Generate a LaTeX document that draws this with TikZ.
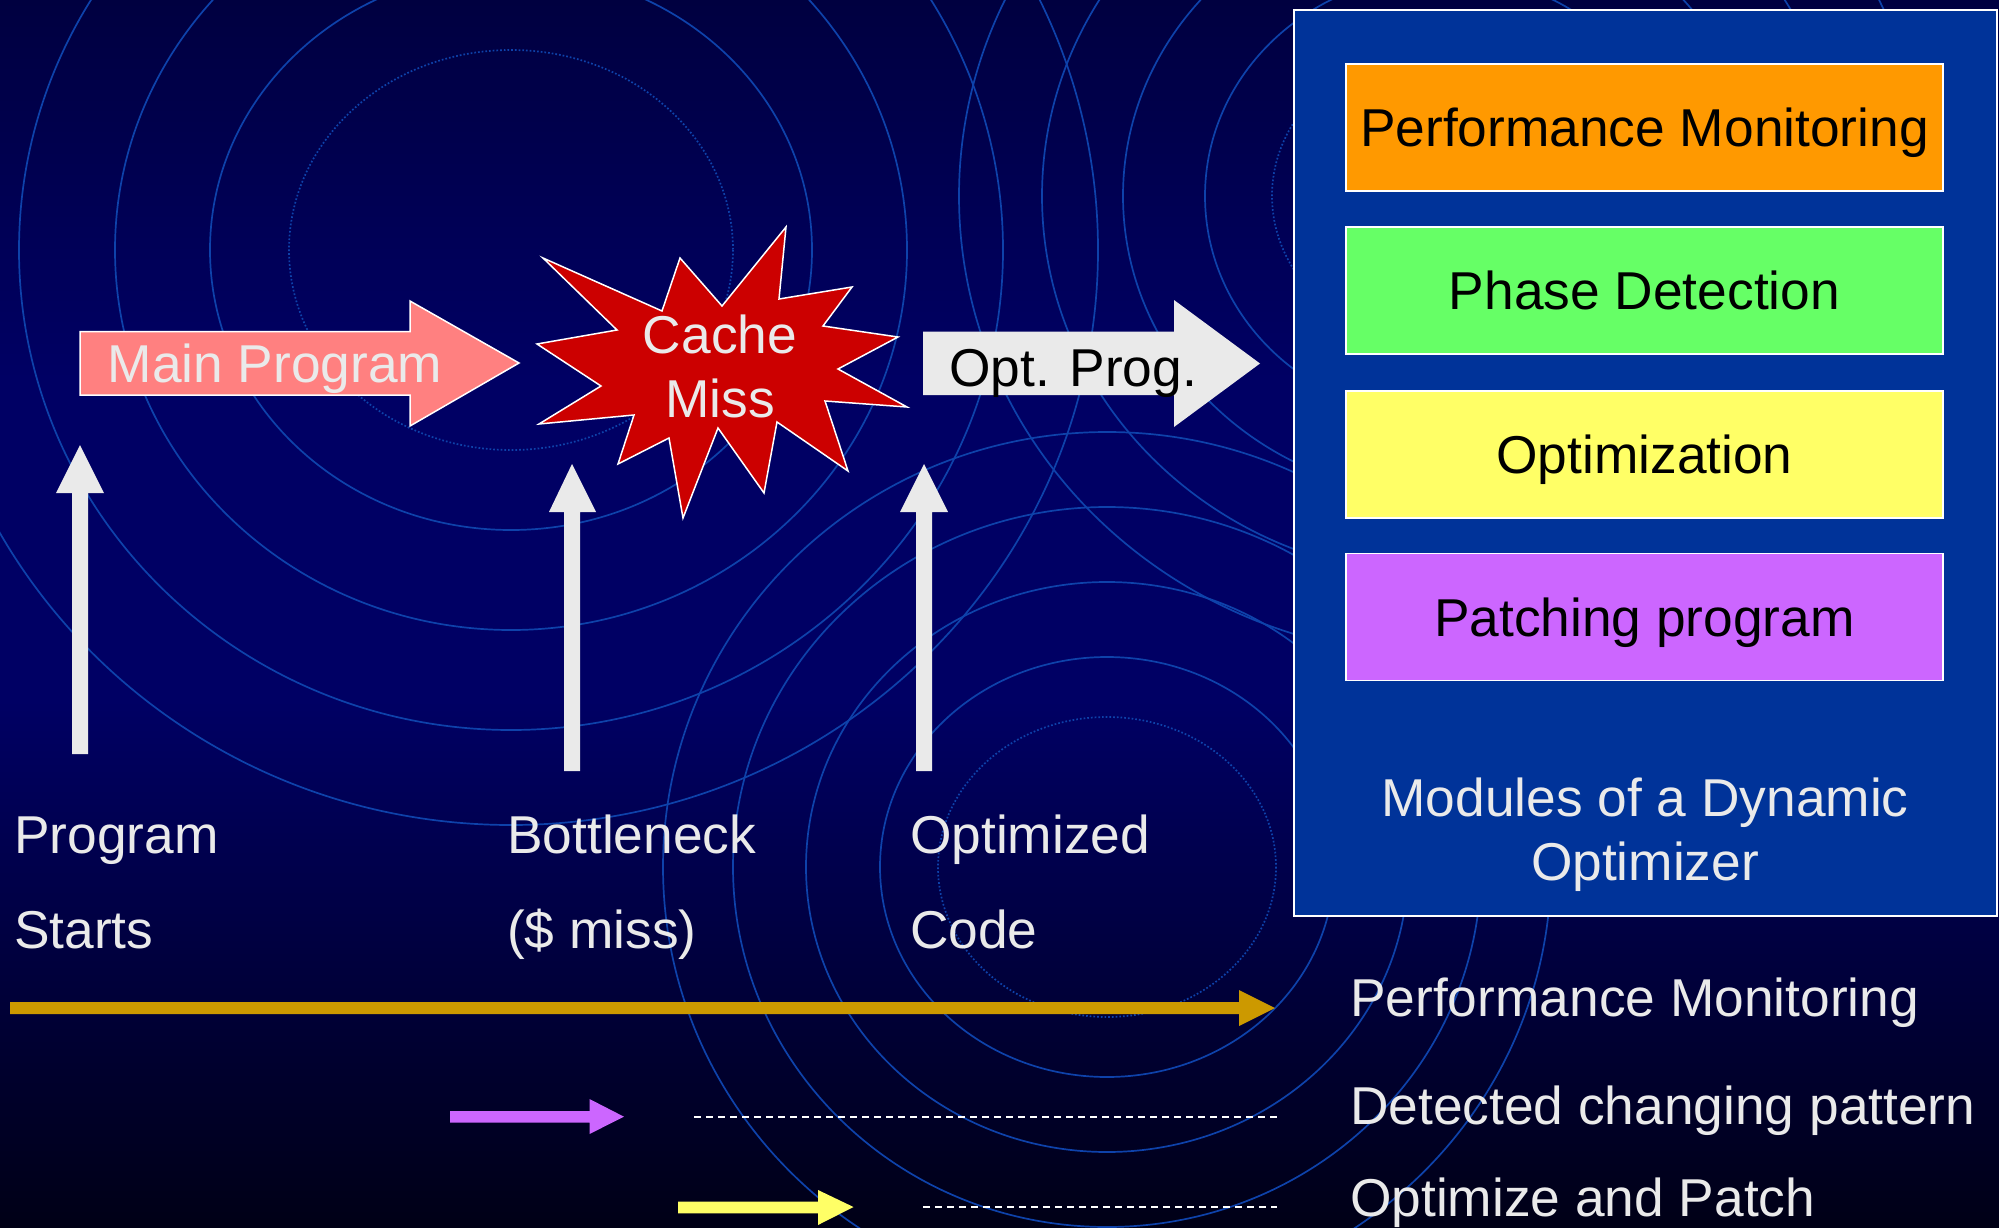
\documentclass[tikz,border=0pt]{standalone}
\usepackage{fontspec}
\setmainfont{Liberation Sans}
\definecolor{ringc}{HTML}{0E42AA}
\definecolor{panelc}{HTML}{003399}
\definecolor{txtw}{HTML}{EAEAEA}
\definecolor{pinkc}{HTML}{FF8080}
\definecolor{starc}{HTML}{CC0000}
\definecolor{greyc}{HTML}{EAEAEA}
\definecolor{orangec}{HTML}{FF9900}
\definecolor{greenc}{HTML}{66FF66}
\definecolor{yellowc}{HTML}{FFFF66}
\definecolor{purplec}{HTML}{CC66FF}
\definecolor{goldc}{HTML}{CC9900}
\definecolor{bgtop}{HTML}{000040}
\definecolor{bgmid}{HTML}{000064}
\definecolor{bgbot}{HTML}{000016}
\begin{document}
\begin{tikzpicture}[x=1pt,y=-1pt,
  lbl/.style={font=\fontsize{53.3}{62}\selectfont, text=txtw, inner sep=0pt},
  ring/.style={draw=ringc, line width=1.7pt},
  ringd/.style={draw=ringc, line width=1.7pt, dotted},
  modbox/.style={draw=white, line width=1.5pt, minimum width=597pt, minimum height=127pt,
    inner sep=0pt, text height=38pt, text depth=0pt, font=\fontsize{53.3}{62}\selectfont, text=black},
  blockarrow/.style={line width=1.5pt}
]
% background (upright y inside this scope)
\begin{scope}[y=1pt]
\shade[top color=bgtop, bottom color=bgmid] (0,0) rectangle (1999,-380);
\fill[bgmid] (0,-379) rectangle (1999,-701);
\shade[top color=bgmid, bottom color=bgbot] (0,-700) rectangle (1999,-1228);
\end{scope}
\useasboundingbox (0,0) rectangle (1999,1228);
\begin{scope}
\clip (0,0) rectangle (1999,1228);
% ring set A
\draw[ringd] (511,250) ellipse[x radius=222, y radius=200];
\foreach \a/\b in {301/280,396/380,492/480,587/575} \draw[ring] (511,250) ellipse[x radius=\a, y radius=\b];
% ring set B
\draw[ringd] (1107,867) ellipse[x radius=169, y radius=150];
\foreach \a/\b in {227/210,301/285,374/360,444/435} \draw[ring] (1107,867) ellipse[x radius=\a, y radius=\b];
% ring set C
\draw[ringd] (1442,196) ellipse[x radius=170, y radius=150];
\foreach \a/\b in {237/222,319/300,400/380,483/460} \draw[ring] (1442,196) ellipse[x radius=\a, y radius=\b];
\end{scope}

% panel
\node[draw=white, line width=1.5pt, fill=panelc, minimum width=703pt, minimum height=906pt, inner sep=0pt] (panel) at (1645.5,463) {};
\node[modbox, fill=orangec] (pm) at (1644.5,127.5) {Performance Monitoring};
\node[modbox, fill=greenc] (pd) at (1644.5,290.5) {Phase Detection};
\node[modbox, fill=yellowc] (op) at (1644.5,454.5) {Optimization};
\node[modbox, fill=purplec] (pp) at (1644.5,617) {Patching program};
\node[lbl, anchor=base] (mod1) at (1645,816) {Modules of a Dynamic};
\node[lbl, anchor=base] (mod2) at (1645,880) {Optimizer};

% main program arrow
\draw[blockarrow, draw=white, fill=pinkc] (80,331.5) -- (410,331.5) -- (410,301) -- (519,363) -- (410,426) -- (410,395) -- (80,395) -- cycle;
\node[lbl, anchor=base] (mainprog) at (275,382) {Main Program};

% star
\draw[line width=1.5pt, draw=white, fill=starc]
 (543,258) -- (662,311) -- (680,258) -- (722,306) -- (786,227) -- (779,299) -- (852,287) -- (823,326)
 -- (898,337) -- (838,369) -- (907,407) -- (825,401) -- (848,471) -- (777,422) -- (764,493) -- (718,428)
 -- (683,518) -- (669,438) -- (618,464) -- (634,415) -- (539,424) -- (601,386) -- (537,344) -- (617,330) -- cycle;
\node[lbl, anchor=base] (cache) at (720,353) {Cache};
\node[lbl, anchor=base] (miss) at (720,417) {Miss};

% opt prog arrow
\fill[greyc] (923,331.5) -- (1174,331.5) -- (1174,300) -- (1260,363.5) -- (1174,427) -- (1174,395) -- (923,395) -- cycle;
\node[lbl, anchor=base, text=black] (optprog) at (1073,386) {Opt. Prog.};

% vertical arrows
\fill[greyc] (72,754) -- (72,493) -- (56,493) -- (80,445) -- (104,493) -- (88,493) -- (88,754) -- cycle;
\fill[greyc] (564,771) -- (564,512) -- (549,512) -- (572,464) -- (596,512) -- (580,512) -- (580,771) -- cycle;
\fill[greyc] (916,771) -- (916,512) -- (900,512) -- (924,464) -- (948,512) -- (932,512) -- (932,771) -- cycle;

% labels
\node[lbl, anchor=base west] (l1a) at (14,853) {Program};
\node[lbl, anchor=base west] (l1b) at (14,948) {Starts};
\node[lbl, anchor=base west] (l2a) at (507,853) {Bottleneck};
\node[lbl, anchor=base west] (l2b) at (507,948) {(\$ miss)};
\node[lbl, anchor=base west] (l3a) at (910,853) {Optimized};
\node[lbl, anchor=base west] (l3b) at (910,948) {Code};

% legend
\fill[goldc] (10,1002) -- (1239,1002) -- (1239,990) -- (1275,1008) -- (1239,1026) -- (1239,1014) -- (10,1014) -- cycle;
\node[lbl, anchor=base west] (lg1) at (1350,1016) {Performance Monitoring};

\fill[purplec] (450,1111) -- (589.5,1111) -- (589.5,1099) -- (624,1116.7) -- (589.5,1134) -- (589.5,1122.7) -- (450,1122.7) -- cycle;
\coordinate (d1a) at (694,1116.7);
\coordinate (d1b) at (1277,1116.7);
\draw[white, line width=2pt, dash pattern=on 7pt off 5pt] (d1a) -- (d1b);
\node[lbl, anchor=base west] (lg2) at (1350,1124) {Detected changing pattern};

\fill[yellowc] (678,1201.7) -- (818,1201.7) -- (818,1190) -- (853.5,1207) -- (818,1225) -- (818,1213.3) -- (678,1213.3) -- cycle;
\coordinate (d2a) at (923,1207);
\coordinate (d2b) at (1277,1207);
\draw[white, line width=2pt, dash pattern=on 7pt off 5pt] (d2a) -- (d2b);
\node[lbl, anchor=base west] (lg3) at (1350,1216) {Optimize and Patch};
\end{tikzpicture}
\end{document}
